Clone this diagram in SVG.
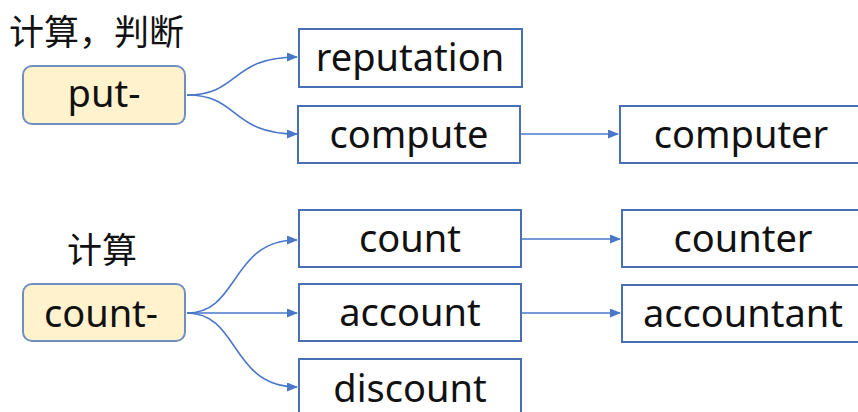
<svg xmlns="http://www.w3.org/2000/svg" width="858" height="412" viewBox="0 0 858 412">
<style>
.box{fill:#ffffff;stroke:#4a6fb5;stroke-width:2}
.root{fill:#fff2cc;stroke:#6f8fc0;stroke-width:2}
.t{font-family:"Noto Sans","Liberation Sans",sans-serif;font-size:38px;fill:#111;text-anchor:middle}
.cn{font-family:"Noto Sans CJK SC",sans-serif;font-size:35px;fill:#111}
.c{fill:none;stroke:#4a77c8;stroke-width:1.6}
</style>
<defs>
<marker id="ah" viewBox="0 0 11 9" refX="10" refY="4.5" markerWidth="11" markerHeight="9" markerUnits="userSpaceOnUse" orient="auto">
<path d="M0,0 L11,4.5 L0,9 z" fill="#4a77c8"/>
</marker>
</defs>
<rect width="858" height="412" fill="#ffffff"/>
<text class="cn" x="9" y="45">计算，判断</text>
<text class="cn" x="67" y="263">计算</text>
<g id="connectors">
<path class="c" marker-end="url(#ah)" d="M187,95 C240,95 230,57 297,57"/>
<path class="c" marker-end="url(#ah)" d="M187,95 C240,95 230,134 297,134"/>
<path class="c" marker-end="url(#ah)" d="M521,134 L618,134"/>
<path class="c" marker-end="url(#ah)" d="M187,313 C240,313 230,240 297,240"/>
<path class="c" marker-end="url(#ah)" d="M187,313 L297,313"/>
<path class="c" marker-end="url(#ah)" d="M187,313 C240,313 230,387 297,387"/>
<path class="c" marker-end="url(#ah)" d="M522,239 L620,239"/>
<path class="c" marker-end="url(#ah)" d="M522,313 L620,313"/>
</g>
<g id="put"><rect class="root" x="23" y="66" width="162" height="58" rx="9"/><text class="t" x="104" y="107">put-</text></g>
<g id="reputation"><rect class="box" x="299" y="29" width="223" height="58"/><text class="t" x="410" y="71">reputation</text></g>
<g id="compute"><rect class="box" x="298" y="106" width="222" height="57"/><text class="t" x="409" y="148">compute</text></g>
<g id="computer"><rect class="box" x="620" y="106" width="250" height="57"/><text class="t" x="741" y="148">computer</text></g>
<g id="count-root"><rect class="root" x="23" y="284" width="162" height="57" rx="9"/><text class="t" x="101" y="327">count-</text></g>
<g id="count"><rect class="box" x="299" y="210" width="222" height="57"/><text class="t" x="410" y="252">count</text></g>
<g id="account"><rect class="box" x="299" y="284" width="222" height="57"/><text class="t" x="410" y="326">account</text></g>
<g id="discount"><rect class="box" x="299" y="359" width="222" height="60"/><text class="t" x="410" y="402">discount</text></g>
<g id="counter"><rect class="box" x="622" y="210" width="250" height="57"/><text class="t" x="743" y="252">counter</text></g>
<g id="accountant"><rect class="box" x="622" y="285" width="250" height="57"/><text class="t" x="743" y="327">accountant</text></g>
</svg>
